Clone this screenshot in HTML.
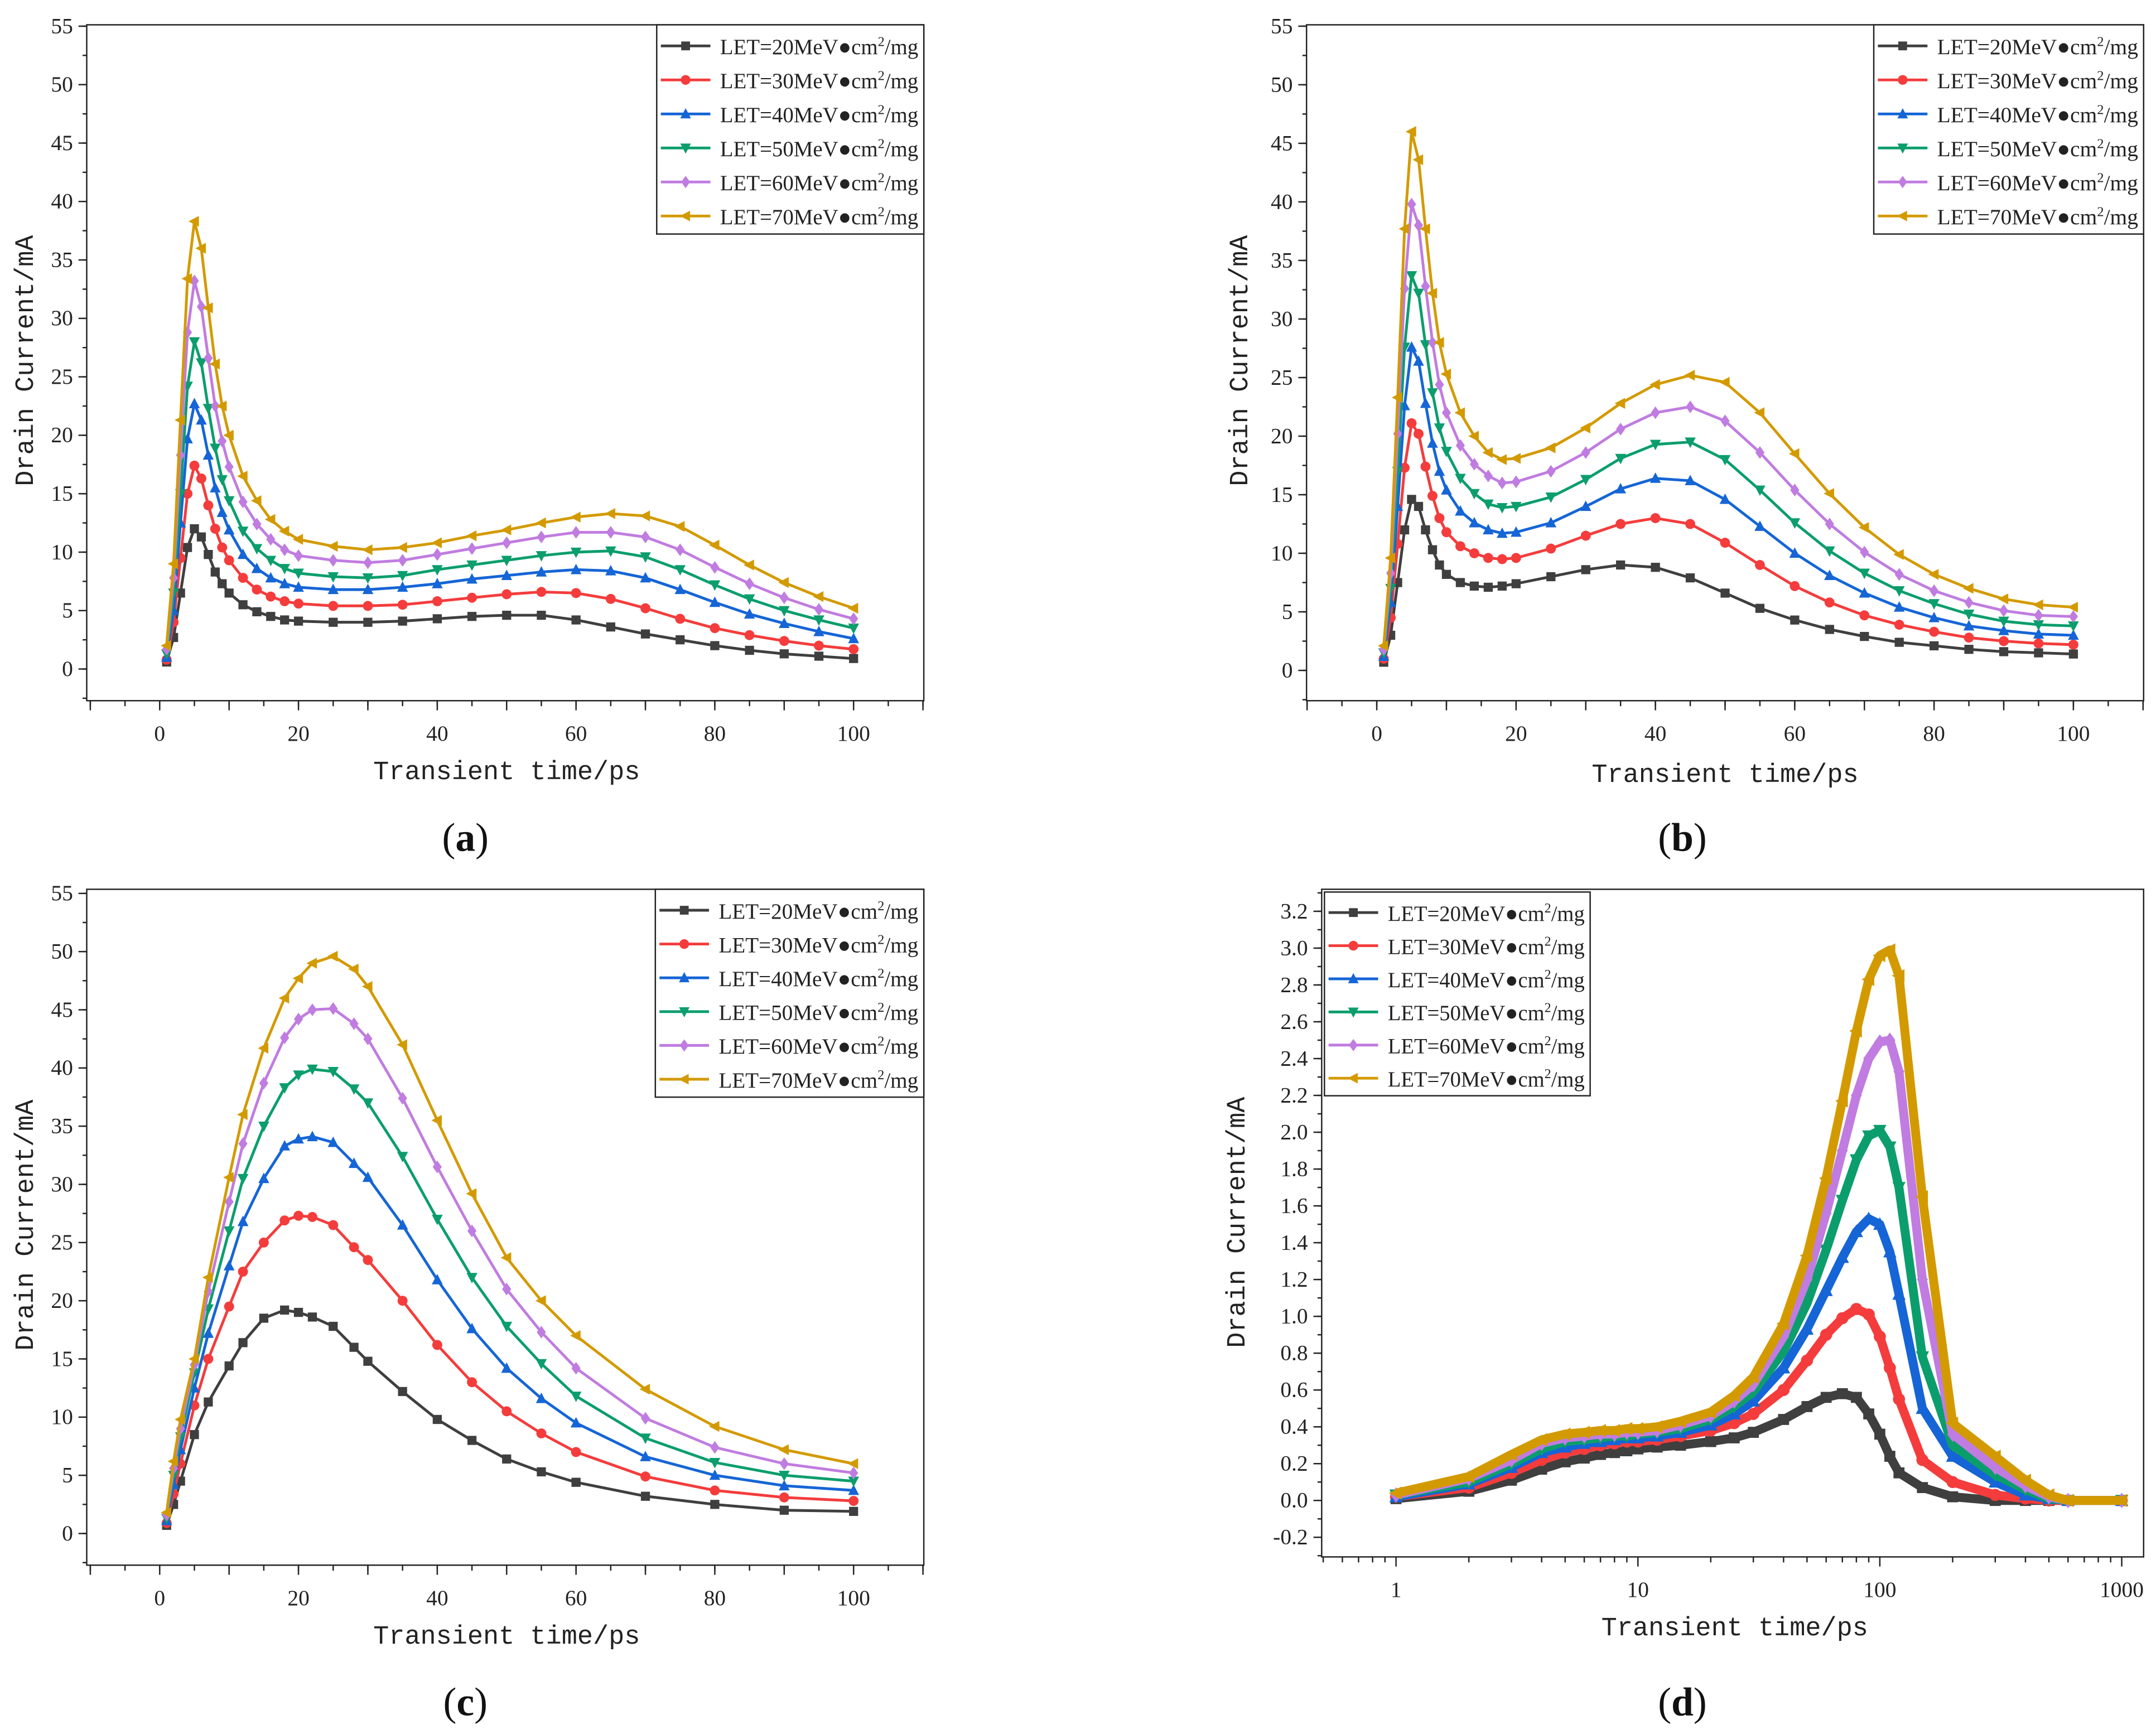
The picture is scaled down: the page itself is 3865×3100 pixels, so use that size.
<!DOCTYPE html>
<html><head><meta charset="utf-8">
<style>
html,body{margin:0;padding:0;background:#fff;}
svg{display:block;}
text{font-family:"Liberation Serif","Noto Serif CJK SC",serif;}
.mono{font-family:"Liberation Mono","Noto Sans CJK SC",monospace;}
</style></head>
<body>
<svg id="fig" xmlns="http://www.w3.org/2000/svg" width="3865" height="3100" viewBox="0 0 1566 1256"></svg>
<script>
// ---------- data ----------
const seriesLabels = ["20","30","40","50","60","70"];
const seriesColors = ["#3f3f3f","#f43c3c","#1565d6","#0b9e6c","#c07ce0","#d39a00"];
const seriesMarkers = ["square","circle","up","down","diamond","left"];

const timesA = [1,2,3,4,5,6,7,8,9,10,12,14,16,18,20,25,30,35,40,45,50,55,60,65,70,75,80,85,90,95,100];
const a20 = [0.6,2.7,6.5,10.4,12,11.3,9.8,8.3,7.3,6.5,5.5,4.9,4.5,4.2,4.1,4.0,4.0,4.1,4.3,4.5,4.6,4.6,4.2,3.6,3.0,2.5,2.0,1.6,1.3,1.1,0.9];
const a30 = [0.8,4,9.5,15,17.4,16.3,14,12,10.4,9.3,7.8,6.8,6.2,5.8,5.6,5.4,5.4,5.5,5.8,6.1,6.4,6.6,6.5,6.0,5.2,4.3,3.5,2.9,2.4,2.0,1.7];
const a40 = [1.0,5,12.5,19.7,22.7,21.3,18.3,15.5,13.4,11.9,9.8,8.6,7.8,7.3,7.0,6.8,6.8,7.0,7.3,7.7,8.0,8.3,8.5,8.4,7.8,6.8,5.7,4.7,3.9,3.2,2.6];
const a50 = [1.3,6.5,15,24.2,28,26.2,22.3,18.9,16.2,14.4,11.8,10.3,9.3,8.6,8.2,7.9,7.8,8.0,8.5,8.9,9.3,9.7,10.0,10.1,9.6,8.5,7.2,6.0,5.0,4.2,3.5];
const a60 = [1.7,7.8,18.3,28.8,33.2,31,26.6,22.5,19.5,17.3,14.3,12.4,11.1,10.2,9.7,9.3,9.1,9.3,9.8,10.3,10.8,11.3,11.7,11.7,11.3,10.2,8.7,7.3,6.1,5.1,4.3];
const a70 = [2.0,9,21.3,33.4,38.3,36,30.9,26.1,22.5,20,16.5,14.4,12.8,11.8,11.1,10.5,10.2,10.4,10.8,11.4,11.9,12.5,13.0,13.3,13.1,12.2,10.6,8.9,7.4,6.2,5.2];

const timesB = [1,2,3,4,5,6,7,8,9,10,12,14,16,18,20,25,30,35,40,45,50,55,60,65,70,75,80,85,90,95,100];
const b20 = [0.7,3,7.5,12,14.6,14,12,10.3,9,8.2,7.5,7.2,7.1,7.2,7.4,8.0,8.6,9.0,8.8,7.9,6.6,5.3,4.3,3.5,2.9,2.4,2.1,1.8,1.6,1.5,1.4];
const b30 = [1.0,4.5,10.8,17.3,21.1,20.2,17.4,14.9,13,11.8,10.6,10,9.6,9.5,9.6,10.4,11.5,12.5,13.0,12.5,10.9,9.0,7.2,5.8,4.7,3.9,3.3,2.8,2.5,2.3,2.2];
const b40 = [1.2,5.8,14,22.6,27.6,26.4,22.8,19.4,17,15.4,13.6,12.6,12.0,11.7,11.8,12.6,14.0,15.5,16.4,16.2,14.6,12.3,10.0,8.1,6.6,5.4,4.5,3.8,3.4,3.1,3.0];
const b50 = [1.5,7,17,27.6,33.7,32.2,27.8,23.7,20.7,18.7,16.4,15.1,14.2,13.9,14.0,14.8,16.3,18.1,19.3,19.5,18.0,15.4,12.6,10.2,8.3,6.8,5.7,4.8,4.2,3.9,3.8];
const b60 = [1.8,8.3,20.2,32.6,39.8,38,32.8,28,24.4,22,19.2,17.6,16.6,16.0,16.1,17.0,18.6,20.6,22.0,22.5,21.3,18.6,15.4,12.5,10.1,8.2,6.8,5.8,5.1,4.7,4.6];
const b70 = [2.1,9.6,23.3,37.7,46,43.6,37.7,32.2,28,25.3,22,20,18.6,18.0,18.1,19.0,20.7,22.8,24.4,25.2,24.6,22.0,18.5,15.1,12.2,9.9,8.2,7.0,6.1,5.6,5.4];

const timesC = [1,2,3,5,7,10,12,15,18,20,22,25,28,30,35,40,45,50,55,60,70,80,90,100];
const c20 = [0.7,2.5,4.5,8.5,11.3,14.4,16.4,18.5,19.2,19.0,18.6,17.8,16.0,14.8,12.2,9.8,8.0,6.4,5.3,4.4,3.2,2.5,2.0,1.9];
const c30 = [0.9,3.4,6.0,11,15,19.5,22.5,25,26.9,27.3,27.2,26.5,24.6,23.5,20,16.2,13,10.5,8.6,7.0,4.9,3.7,3.1,2.8];
const c40 = [1.1,4.2,7.2,12.5,17.2,23,26.8,30.5,33.3,33.9,34.1,33.6,31.8,30.6,26.5,21.8,17.6,14.2,11.6,9.5,6.6,5.0,4.1,3.7];
const c50 = [1.3,5.0,8.3,13.8,19.3,26,30.5,35,38.3,39.4,39.9,39.7,38.2,37,32.4,27,22,17.8,14.6,11.8,8.2,6.1,5.0,4.5];
const c60 = [1.6,5.6,9.0,14.5,20.8,28.5,33.5,38.7,42.6,44.2,45.0,45.1,43.8,42.5,37.4,31.5,26,21,17.3,14.2,9.9,7.4,6.0,5.2];
const c70 = [1.8,6.2,9.8,15,22,30.6,36,41.7,46,47.7,49.0,49.6,48.5,47,42,35.5,29.2,23.7,20.0,17,12.4,9.2,7.2,6.0];

const timesD = [1,2,3,4,5,6,7,8,9,10,12,15,20,25,30,40,50,60,70,80,90,100,110,120,150,200,300,400,500,600,1000];
const d20 = [0.01,0.05,0.11,0.17,0.21,0.23,0.25,0.26,0.27,0.28,0.29,0.30,0.32,0.34,0.37,0.44,0.51,0.56,0.58,0.56,0.47,0.36,0.24,0.15,0.07,0.02,0,0,0,0,0];
const d30 = [0.02,0.07,0.15,0.22,0.26,0.28,0.30,0.31,0.32,0.32,0.33,0.35,0.38,0.42,0.47,0.60,0.76,0.90,0.99,1.04,1.01,0.89,0.72,0.55,0.22,0.10,0.03,0.01,0,0,0];
const d40 = [0.02,0.09,0.18,0.26,0.29,0.31,0.32,0.33,0.34,0.34,0.35,0.37,0.41,0.47,0.54,0.72,0.93,1.14,1.32,1.46,1.53,1.50,1.35,1.12,0.50,0.24,0.10,0.03,0.01,0,0];
const d50 = [0.03,0.10,0.20,0.28,0.32,0.33,0.34,0.35,0.35,0.36,0.37,0.39,0.44,0.51,0.59,0.81,1.07,1.36,1.63,1.85,1.98,2.01,1.92,1.70,0.78,0.30,0.14,0.06,0.01,0,0];
const d60 = [0.03,0.12,0.22,0.31,0.34,0.35,0.36,0.36,0.37,0.37,0.38,0.41,0.46,0.54,0.63,0.89,1.20,1.56,1.90,2.20,2.40,2.49,2.50,2.33,1.20,0.36,0.18,0.08,0.02,0,0];
const d70 = [0.04,0.13,0.25,0.33,0.36,0.37,0.38,0.38,0.39,0.39,0.40,0.43,0.48,0.57,0.67,0.96,1.33,1.75,2.17,2.55,2.83,2.96,2.99,2.85,1.65,0.42,0.24,0.11,0.03,0,0];

const linTicksX = ["0","20","40","60","80","100"];
const linTicksY = ["0","5","10","15","20","25","30","35","40","45","50","55"];
const logTicksX = ["1","10","100","1000"];
const dTicksY = ["-0.2","0.0","0.2","0.4","0.6","0.8","1.0","1.2","1.4","1.6","1.8","2.0","2.2","2.4","2.6","2.8","3.0","3.2"];

// ---------- drawing ----------
const NS = "http://www.w3.org/2000/svg";
const svg = document.getElementById("fig");
function mk(tag, attrs, parent){
  const e = document.createElementNS(NS, tag);
  for (const k in attrs) e.setAttribute(k, attrs[k]);
  (parent||svg).appendChild(e);
  return e;
}
function marker(g, type, x, y, color, s){
  let e;
  if (type==="square") e = mk("rect",{x:x-s,y:y-s,width:2*s,height:2*s,fill:color},g);
  else if (type==="circle") e = mk("circle",{cx:x,cy:y,r:s*1.1,fill:color},g);
  else {
    let p;
    if (type==="up") p=[[x,y-s*1.3],[x-s*1.2,y+s],[x+s*1.2,y+s]];
    else if (type==="down") p=[[x,y+s*1.3],[x-s*1.2,y-s],[x+s*1.2,y-s]];
    else if (type==="diamond") p=[[x,y-s*1.4],[x+s,y],[x,y+s*1.4],[x-s,y]];
    else p=[[x-s*1.3,y],[x+s,y-s*1.2],[x+s,y+s*1.2]];
    e = mk("polygon",{points:p.map(q=>q.join(",")).join(" "),fill:color},g);
  }
  return e;
}

function panel(cfg){
  const g = mk("g",{});
  
  
  const L=cfg.box[0], T=cfg.box[1], R=cfg.box[2], B=cfg.box[3];
  const X = cfg.xf, Y = cfg.yf;
  const frame = mk("rect",{x:L,y:T,width:R-L,height:B-T,fill:"none",stroke:"#222","stroke-width":1},g);
  
  
  cfg.yTicks.forEach(lbl=>{
    const v = parseFloat(lbl), py = Y(v);
    mk("line",{x1:L-6,y1:py,x2:L,y2:py,stroke:"#222","stroke-width":1},g);
    const t = mk("text",{x:L-10,y:py+5,"text-anchor":"end","font-size":16,fill:"#222"},g);
    t.textContent = lbl;
    
    
  });
  cfg.yMinor.forEach(v=>{ const py=Y(v); if(py>T&&py<B) mk("line",{x1:L-3,y1:py,x2:L,y2:py,stroke:"#222","stroke-width":1},g); });
  cfg.xMinor.forEach(v=>{ const px=X(v); if(px>=L-0.5&&px<=R+0.5) mk("line",{x1:px,y1:B,x2:px,y2:B+4,stroke:"#222","stroke-width":1},g); });
  cfg.xMajor.forEach(v=>{ const px=X(v); if(px>=L-0.5&&px<=R+0.5) mk("line",{x1:px,y1:B,x2:px,y2:B+7,stroke:"#222","stroke-width":1},g); });
  cfg.xTicks.forEach(lbl=>{
    const t = mk("text",{x:X(parseFloat(lbl)),y:B+29,"text-anchor":"middle","font-size":16,fill:"#222"},g);
    t.textContent = lbl;
    
    
  });
  const xt = mk("text",{x:cfg.xTitle[0],y:cfg.xTitle[1],"text-anchor":"middle","font-size":19,fill:"#222",class:"mono"},g);
  xt.textContent = "Transient time/ps";
  
  
  const yt = mk("text",{x:0,y:0,"text-anchor":"middle","font-size":19,fill:"#222",class:"mono",transform:`translate(${cfg.yTitle[0]},${cfg.yTitle[1]}) rotate(-90)`},g);
  yt.textContent = "Drain Current/mA";
  
  
  const pl = mk("text",{x:cfg.label[0],y:cfg.label[1],"text-anchor":"middle","font-size":29,fill:"#111"},g);
  pl.innerHTML = '(<tspan font-weight="bold">'+cfg.letter+'</tspan>)';
  
  
  cfg.series.forEach((vals,i)=>{
    const sg = mk("g",{},g);
    
    
    const pts = cfg.times.map((t,k)=>[X(t),Y(vals[k])]);
    const ln = mk("polyline",{points:pts.map(p=>p[0].toFixed(1)+","+p[1].toFixed(1)).join(" "),fill:"none",stroke:seriesColors[i],"stroke-width":cfg.lw,"stroke-linejoin":"round"},sg);
    
    
    pts.forEach(p=>{
      const m = marker(sg, seriesMarkers[i], p[0], p[1], seriesColors[i], cfg.ms);
      
      
    });
  });
  const lg = mk("g",{},g);
  
  
  const lb = cfg.legend;
  mk("rect",{x:lb[0],y:lb[1],width:lb[2]-lb[0],height:lb[3]-lb[1],fill:"#fff",stroke:"#222","stroke-width":1},lg);
  const step = (lb[3]-lb[1])/6.15;
  seriesLabels.forEach((s,i)=>{
    const yy = lb[1]+step*(i+0.62);
    const en = mk("g",{},lg);
    
    
    mk("line",{x1:lb[0]+3,y1:yy,x2:lb[0]+39,y2:yy,stroke:seriesColors[i],"stroke-width":2},en);
    marker(en, seriesMarkers[i], lb[0]+21, yy, seriesColors[i], 3.2);
    const tx = mk("text",{x:lb[0]+46,y:yy+6,"font-size":16,fill:"#222",textLength:lb[2]-lb[0]-50,lengthAdjust:"spacingAndGlyphs"},en);
    tx.innerHTML = 'LET='+s+'MeV●cm<tspan dy="-6" font-size="10">2</tspan><tspan dy="6">/mg</tspan>';
  });
}

function range(a,b,s){const r=[];for(let v=a;v<=b+1e-9;v+=s)r.push(+v.toFixed(4));return r;}
function linX(x0,x100){return t=>x0+t*(x100-x0)/100;}
function linY(y0,y55){return v=>y0+v*(y55-y0)/55;}

panel({name:"panel-a",letter:"a",box:[63,18,671,509],xf:linX(116,620),yf:linY(486,19),
  yTicks:linTicksY,yMinor:range(-2.5,55,2.5),xTicks:linTicksX,xMajor:range(-10,110,10),xMinor:range(-10,110,5),
  xTitle:[368,566],yTitle:[24,262],label:[338,618],times:timesA,series:[a20,a30,a40,a50,a60,a70],lw:2,ms:3.3,legend:[477,18,671,170]});
panel({name:"panel-b",letter:"b",box:[949,18,1557,509],xf:linX(1000,1506),yf:linY(487,19),
  yTicks:linTicksY,yMinor:range(-2.5,55,2.5),xTicks:linTicksX,xMajor:range(-10,110,10),xMinor:range(-10,110,5),
  xTitle:[1253,568],yTitle:[906,262],label:[1222,618],times:timesB,series:[b20,b30,b40,b50,b60,b70],lw:2,ms:3.3,legend:[1361,18,1557,170]});
panel({name:"panel-c",letter:"c",box:[63,646,671,1137],xf:linX(116,620),yf:linY(1114,649),
  yTicks:linTicksY,yMinor:range(-2.5,55,2.5),xTicks:linTicksX,xMajor:range(-10,110,10),xMinor:range(-10,110,5),
  xTitle:[368,1194],yTitle:[24,890],label:[338,1246],times:timesC,series:[c20,c30,c40,c50,c60,c70],lw:2,ms:3.3,legend:[476,646,671,797]});
const logMinor=[]; [0.1,1,10,100,1000].forEach(d=>{for(let k=2;k<=9;k++)logMinor.push(d*k);});
panel({name:"panel-d",letter:"d",box:[960,646,1557,1131],xf:t=>1014+Math.log10(t)*175.7,yf:v=>1090-v*133.75,
  yTicks:dTicksY,yMinor:range(-0.3,3.3,0.1),xTicks:logTicksX,xMajor:[1,10,100,1000],xMinor:logMinor,
  xTitle:[1260,1188],yTitle:[904,888],label:[1222,1246],times:timesD,series:[d20,d30,d40,d50,d60,d70],lw:6.5,ms:4,legend:[962,648,1155,796]});
</script>
</body></html>
